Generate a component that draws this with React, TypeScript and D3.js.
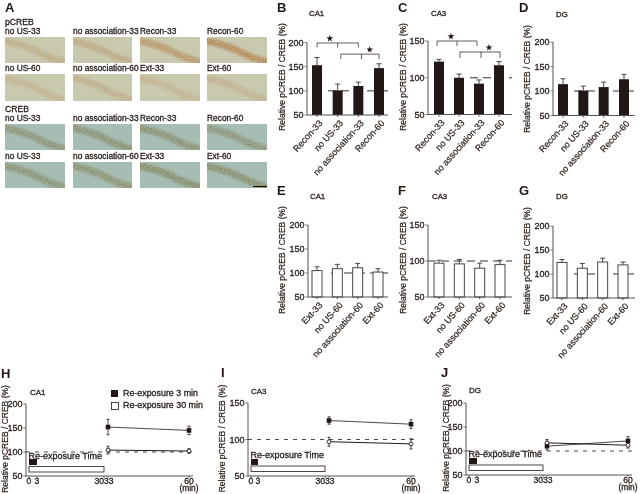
import React from "react";
import * as d3 from "d3";

const FONT = "'Liberation Sans', Arial, sans-serif";
const INK = "#231815";
const Y_LABEL = "Relative pCREB / CREB (%)";

// Panel A
const rowLabels = [
  ["no US-33", "no association-33", "Recon-33", "Recon-60"],
  ["no US-60", "no association-60", "Ext-33", "Ext-60"],
  ["no US-33", "no association-33", "Recon-33", "Recon-60"],
  ["no US-33", "no association-60", "Ext-33", "Ext-60"],
];
const stainStrength = [
  [0.4, 0.45, 0.75, 1],
  [0.3, 0.35, 0.3, 0.32],
  [0.8, 0.85, 0.85, 0.75],
  [0.8, 0.85, 0.95, 0.9],
];
const colLeft = [5, 73, 140, 207];
const rowTop = [37, 74, 124, 162];
const rowHeight = [26, 27, 26, 26];

// Bar panels
const labelsTop = ["Recon-33", "no US-33", "no association-33", "Recon-60"];
const labelsBottom = ["Ext-33", "no US-60", "no association-60", "Ext-60"];
const meanB = [153, 101, 110, 147];
const errB = [16, 13, 8, 9];
const meanC = [122, 100, 92, 117];
const errC = [3, 5, 5, 5];
const meanD = [114, 101, 108, 124];
const errD = [11, 9, 10, 10];
const meanE = [105, 109, 111, 102];
const errE = [8, 9, 9, 7];
const meanF = [97, 96, 90, 95];
const errF = [4, 6, 7, 6];
const meanG = [124, 112, 125, 119];
const errG = [6, 10, 8, 6];

const bracketsB = [
  { from: 0, mid: 1, to: 2, level: 199, drop: 4.5, star: 0.62 },
  { from: 1.15, mid: 2.15, to: 3, level: 176, drop: 5, star: 2.55 },
];
const bracketsC = [
  { from: -0.1, mid: 0.9, to: 1.9, level: 150, drop: 5, star: 0.6 },
  { from: 1.05, mid: 2.1, to: 3.05, level: 135, drop: 6, star: 2.5 },
];

// Time-course panels
const timeTicks = [0, 3, 30, 33, 60];
const h3 = [152, 145];
const h3e = [16, 9];
const h30 = [104, 102];
const h30e = [8, 5];
const i3 = [126, 121];
const i3e = [5, 6];
const i30 = [97, 94];
const i30e = [6, 7];
const j3 = [110, 121];
const j3e = [8, 9];
const j30 = [117, 112];
const j30e = [7, 6];
const sampleTimes = [33, 60];

function Letter({ x, y, t }: any) {
  return <text x={x} y={y} fontSize={13} fontWeight={700} fill={INK}>{t}</text>;
}

function Txt({ x, y, t, size = 8.6, anchor = "start", fill = INK, weight = 400 }: any) {
  return <text x={x} y={y} fontSize={size} textAnchor={anchor} fill={fill} fontWeight={weight} stroke={fill} strokeWidth={0.28}>{t}</text>;
}

function Micrograph({ id, x, y, w, h, strength, creb }: any) {
  const line = d3.line<number[]>().curve(d3.curveCatmullRom);
  const centre = line([[-0.05, 0.14], [0.2, 0.26], [0.45, 0.46], [0.7, 0.74], [1.05, 1.0]].map(([a, b]) => [x + a * w, y + b * h]))!;
  const bg = creb ? "#a5bdb3" : "#c9c9b0";
  const stain = creb ? "#8f8c62" : "#b58850";
  const dots = creb ? "#6a6648" : "#a0683a";
  return (
    <g clipPath={`url(#clip-${id})`}>
      <clipPath id={`clip-${id}`}><rect x={x} y={y} width={w} height={h} /></clipPath>
      <rect x={x} y={y} width={w} height={h} fill={bg} />
      <path d={centre} fill="none" stroke={stain} strokeWidth={7} strokeOpacity={0.6 * strength} filter="url(#soft)" />
      <path d={centre} fill="none" stroke={dots} strokeWidth={7} strokeOpacity={0.55 * strength} filter="url(#grain)" />
    </g>
  );
}

function BarPanel({ ax, y0, yTop, xLast, centres, domain, ticks, means, errs, labels, filled, title, titleX, titleY, labelX, labelCy, brackets = [], refFrom }: any) {
  const y = d3.scaleLinear().domain(domain).range([y0, yTop]);
  const x = d3.scaleLinear().domain([0, 3]).range(centres);
  const bw = 10;
  return (
    <g>
      <Txt x={titleX} y={titleY} t={title} size={7.8} />
      <text transform={`translate(${labelX},${labelCy}) rotate(-90)`} fontSize={8.5} textAnchor="middle" fill={INK} stroke={INK} strokeWidth={0.2}>{Y_LABEL}</text>
      <line x1={refFrom} x2={xLast} y1={y(100)} y2={y(100)} stroke={INK} strokeWidth={0.9} strokeDasharray="8 5" />
      {means.map((m: number, i: number) => (
        <g key={i}>
          <line x1={x(i)} x2={x(i)} y1={y(m)} y2={y(m + errs[i])} stroke="#4a4442" strokeWidth={1} />
          <line x1={x(i) - 2.5} x2={x(i) + 2.5} y1={y(m + errs[i])} y2={y(m + errs[i])} stroke="#4a4442" strokeWidth={1} />
          <rect x={x(i) - bw / 2} y={y(m)} width={bw} height={y0 - y(m)} fill={filled ? INK : "#fff"} stroke={filled ? INK : "#4a4442"} strokeWidth={filled ? 0 : 1} />
          <line x1={x(i)} x2={x(i)} y1={y0} y2={y0 + 2} stroke={INK} strokeWidth={0.8} />
          <text transform={`translate(${x(i) + 6},${y0 + 8.5}) rotate(-48)`} fontSize={9} textAnchor="end" fill={INK} stroke={INK} strokeWidth={0.2}>{labels[i]}</text>
        </g>
      ))}
      <line x1={ax} x2={ax} y1={yTop} y2={y0} stroke="#555" strokeWidth={1} />
      <line x1={ax} x2={xLast} y1={y0} y2={y0} stroke="#555" strokeWidth={1} />
      {ticks.map((t: number) => (
        <g key={t}>
          <line x1={ax - 2.5} x2={ax} y1={y(t)} y2={y(t)} stroke="#555" strokeWidth={0.8} />
          <Txt x={ax - 3.5} y={y(t) + 3} t={t} size={9} anchor="end" />
        </g>
      ))}
      {brackets.map((b: any, i: number) => (
        <g key={i}>
          <path d={`M${x(b.from)},${y(b.level) + b.drop}V${y(b.level)}H${x(b.to)}V${y(b.level) + b.drop}M${x(b.mid)},${y(b.level)}V${y(b.level) + b.drop}`} fill="none" stroke="#3a3533" strokeWidth={0.8} />
          <path transform={`translate(${x(b.star)},${y(b.level) - 4.5})`} d={d3.symbol(d3.symbolStar, 15)()!} fill={INK} />
        </g>
      ))}
    </g>
  );
}

function TimePanel({ ax, y0, yTop, xRange, xLast, domain, ticks, s3, s3e, s30, s30e, title, titleX, titleY, labelX, textY, blackY, whiteY }: any) {
  const y = d3.scaleLinear().domain(domain).range([y0, yTop]);
  const x = d3.scaleLinear().domain(timeTicks).range(xRange);
  const line = d3.line<number>().x((_, i) => x(sampleTimes[i])).y((d) => y(d));
  const errBars = (vals: number[], errs: number[]) => vals.map((v, i) => (
    <path key={i} d={`M${x(sampleTimes[i]) - 1.5},${y(v + errs[i])}h3M${x(sampleTimes[i])},${y(v + errs[i])}V${y(v - errs[i])}M${x(sampleTimes[i]) - 1.5},${y(v - errs[i])}h3`} stroke={INK} strokeWidth={0.8} fill="none" />
  ));
  return (
    <g>
      <Txt x={titleX} y={titleY} t={title} size={8} />
      <text transform={`translate(${labelX},${(y0 + yTop) / 2 - 1}) rotate(-90)`} fontSize={8.5} textAnchor="middle" fill={INK} stroke={INK} strokeWidth={0.2}>{Y_LABEL}</text>
      <line x1={ax} x2={xLast} y1={y(100)} y2={y(100)} stroke={INK} strokeWidth={0.8} strokeDasharray="4 5" />
      <line x1={ax} x2={ax} y1={yTop} y2={y0} stroke="#444" strokeWidth={0.9} />
      <line x1={ax} x2={xLast} y1={y0} y2={y0} stroke="#444" strokeWidth={0.9} />
      {ticks.map((t: number) => (
        <g key={t}>
          <line x1={ax - 2.5} x2={ax} y1={y(t)} y2={y(t)} stroke="#444" strokeWidth={0.8} />
          <Txt x={ax - 3.5} y={y(t) + 3} t={t} size={9} anchor="end" />
        </g>
      ))}
      {timeTicks.map((t) => (
        <line key={t} x1={x(t)} x2={x(t)} y1={y0} y2={y0 + 2} stroke="#444" strokeWidth={0.8} />
      ))}
      <Txt x={x(0)} y={y0 + 8} t="0" anchor="middle" />
      <Txt x={x(3)} y={y0 + 8} t="3" anchor="middle" />
      <Txt x={x(30)} y={y0 + 8} t="30" anchor="end" />
      <Txt x={x(30)} y={y0 + 8} t="33" anchor="start" />
      <Txt x={x(60)} y={y0 + 7.5} t="60" anchor="middle" />
      <Txt x={x(60)} y={y0 + 15} t="(min)" size={8.4} anchor="middle" />
      <Txt x={x(0) - 0.5} y={textY} t="Re-exposure Time" size={9} />
      <rect x={x(0)} y={blackY} width={x(3) - x(0)} height={6} fill={INK} />
      <rect x={x(0)} y={whiteY} width={x(30) - x(0)} height={5.5} fill="#fff" stroke={INK} strokeWidth={0.8} />
      <path d={line(s30)!} fill="none" stroke={INK} strokeWidth={1} />
      <path d={line(s3)!} fill="none" stroke={INK} strokeWidth={0.8} />
      {errBars(s3, s3e)}
      {errBars(s30, s30e)}
      {s3.map((v: number, i: number) => (
        <rect key={i} x={x(sampleTimes[i]) - 2.3} y={y(v) - 2.3} width={4.6} height={4.6} fill={INK} />
      ))}
      {s30.map((v: number, i: number) => (
        <circle key={i} cx={x(sampleTimes[i])} cy={y(v)} r={1.9} fill="#fff" stroke={INK} strokeWidth={0.9} />
      ))}
    </g>
  );
}

export default function App() {
  return (
    <svg width={640} height={494} viewBox="0 0 640 494" fontFamily={FONT} style={{ position: "absolute", left: 0, top: 0, background: "#fff" }}>
      <defs>
        <filter id="soft" x="-10%" y="-30%" width="120%" height="160%">
          <feGaussianBlur stdDeviation="1" />
        </filter>
        <filter id="grain" x="-10%" y="-30%" width="120%" height="160%">
          <feGaussianBlur in="SourceGraphic" stdDeviation="0.8" result="band" />
          <feTurbulence type="fractalNoise" baseFrequency="0.7" numOctaves={2} seed={4} result="noise" />
          <feColorMatrix in="noise" type="matrix" values="0 0 0 0 0  0 0 0 0 0  0 0 0 0 0  3.5 0 0 0 -1.6" result="mask" />
          <feComposite in="band" in2="mask" operator="in" />
          <feGaussianBlur stdDeviation="0.35" />
        </filter>
        <filter id="print" x="0" y="0" width="640" height="494" filterUnits="userSpaceOnUse">
          <feGaussianBlur stdDeviation="0.3" />
        </filter>
      </defs>
      <rect width={640} height={494} fill="#fff" />
      <g filter="url(#print)">
        <Letter x={5} y={12} t="A" />
        <Txt x={5} y={25} t="pCREB" size={8.6} />
        <Txt x={5} y={112} t="CREB" size={8.6} />
        {rowLabels.map((row, r) =>
          row.map((lab, c) => (
            <g key={`${r}-${c}`}>
              <Txt x={colLeft[c]} y={rowTop[r] - 3} t={lab} size={8.4} />
              <Micrograph id={`${r}-${c}`} x={colLeft[c]} y={rowTop[r]} w={c === 1 ? 59 : 60} h={rowHeight[r]} strength={stainStrength[r][c]} creb={r > 1} />
            </g>
          ))
        )}
        <line x1={253} x2={267} y1={186.5} y2={186.5} stroke="#111" strokeWidth={1} />

        <Letter x={277} y={12} t="B" />
        <Letter x={398} y={12} t="C" />
        <Letter x={519} y={12} t="D" />
        <Letter x={277} y={195} t="E" />
        <Letter x={398} y={195} t="F" />
        <Letter x={519} y={195} t="G" />
        <Letter x={1} y={378} t="H" />
        <Letter x={221} y={377} t="I" />
        <Letter x={441} y={377} t="J" />

        <BarPanel ax={307} y0={115} yTop={42.5} xLast={388} centres={[317, 379]} domain={[50, 200]} ticks={[50, 100, 150, 200]} means={meanB} errs={errB} labels={labelsTop} filled title="CA1" titleX={309} titleY={16} labelX={285} labelCy={77} brackets={bracketsB} refFrom={328} />
        <BarPanel ax={428} y0={114.5} yTop={41} xLast={512} centres={[439, 499]} domain={[50, 150]} ticks={[50, 100, 150]} means={meanC} errs={errC} labels={labelsTop} filled title="CA3" titleX={431} titleY={16} labelX={406} labelCy={77} brackets={bracketsC} refFrom={470} />
        <BarPanel ax={553} y0={115.5} yTop={42} xLast={635} centres={[563, 624]} domain={[50, 200]} ticks={[50, 100, 150, 200]} means={meanD} errs={errD} labels={labelsTop} filled title="DG" titleX={556} titleY={17} labelX={530} labelCy={79} refFrom={574} />

        <BarPanel ax={308} y0={297} yTop={225} xLast={388} centres={[317, 378]} domain={[50, 200]} ticks={[50, 100, 150, 200]} means={meanE} errs={errE} labels={labelsBottom} filled={false} title="CA1" titleX={310} titleY={199} labelX={285} labelCy={260} refFrom={331} />
        <BarPanel ax={428} y0={297} yTop={225} xLast={512} centres={[439, 500]} domain={[50, 150]} ticks={[50, 100, 150]} means={meanF} errs={errF} labels={labelsBottom} filled={false} title="CA3" titleX={432} titleY={199} labelX={406} labelCy={260} refFrom={428} />
        <BarPanel ax={553} y0={298} yTop={226} xLast={635} centres={[562, 623]} domain={[50, 200]} ticks={[50, 100, 150, 200]} means={meanG} errs={errG} labels={labelsBottom} filled={false} title="DG" titleX={556} titleY={199} labelX={530} labelCy={261} refFrom={574} />

        <TimePanel ax={26} y0={476} yTop={404} xRange={[29, 37, 104, 108, 189]} xLast={193} domain={[50, 200]} ticks={[50, 100, 150, 200]} s3={h3} s3e={h3e} s30={h30} s30e={h30e} title="CA1" titleX={30} titleY={395} labelX={8} textY={458.5} blackY={459} whiteY={466.5} />
        <TimePanel ax={248} y0={476} yTop={403} xRange={[251, 258, 325, 329, 411]} xLast={415} domain={[50, 150]} ticks={[50, 100, 150]} s3={i3} s3e={i3e} s30={i30} s30e={i30e} title="CA3" titleX={251} titleY={394} labelX={225} textY={458} blackY={459} whiteY={466} />
        <TimePanel ax={466} y0={475} yTop={403} xRange={[469, 477, 543, 547, 628]} xLast={632} domain={[50, 200]} ticks={[50, 100, 150, 200]} s3={j3} s3e={j3e} s30={j30} s30e={j30e} title="DG" titleX={469} titleY={393} labelX={449} textY={457} blackY={458} whiteY={465} />

        <rect x={111} y={390} width={7} height={7} fill={INK} />
        <rect x={111.5} y={402.5} width={7} height={7} fill="#fff" stroke={INK} strokeWidth={0.8} />
        <Txt x={123} y={396} t="Re-exposure 3 min" size={8.9} />
        <Txt x={123} y={408} t="Re-exposure 30 min" size={8.9} />
      </g>
    </svg>
  );
}
